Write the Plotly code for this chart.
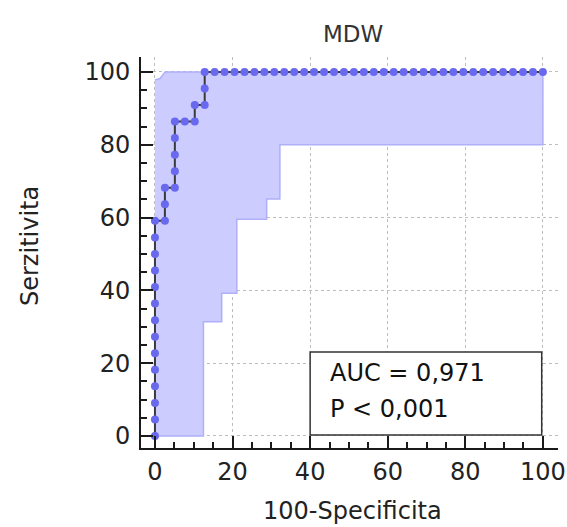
import plotly.graph_objects as go

# ROC curve points (100-Specificity, Sensitivity)
n_pos = 22
n_neg = 39
fpr_steps = [0]*14 + [1, 1, 1, 2, 2, 2, 2, 2, 3, 4, 4, 5, 5, 5] + list(range(6, 40))
tpr_steps = list(range(0, 14)) + [13, 14, 15, 15, 16, 17, 18, 19, 19, 19, 20, 20, 21, 22] + [22]*34
roc_x = [100 * s / n_neg for s in fpr_steps]
roc_y = [100 * s / n_pos for s in tpr_steps]

# Confidence band boundaries
ci_upper_x = [0, 1.3, 2.6, 100]
ci_upper_y = [97.8, 98.2, 100, 100]
ci_lower_x = [100, 32.2, 32.2, 28.8, 28.8, 21.1, 21.1, 17.2, 17.2, 12.5, 12.5, 0]
ci_lower_y = [80, 80, 65.1, 65.1, 59.5, 59.5, 39.2, 39.2, 31.4, 31.4, 0, 0]

tick_vals = [0, 20, 40, 60, 80, 100]
auc_text = "AUC = 0,971"
p_text = "P < 0,001"
title_text = "MDW"
x_title = "100-Specificita"
y_title = "Serzitivita"

FONT = "DejaVu Sans"

fig = go.Figure()
fig.add_trace(go.Scatter(
    x=ci_upper_x + ci_lower_x, y=ci_upper_y + ci_lower_y,
    fill="toself", fillcolor="rgba(204,204,255,1)",
    line=dict(color="rgb(175,175,250)", width=1.5),
    mode="lines", hoverinfo="skip", showlegend=False))
fig.add_trace(go.Scatter(
    x=roc_x, y=roc_y, mode="lines+markers",
    line=dict(color="#3a3a3a", width=2, shape="linear"),
    marker=dict(color="rgb(105,105,240)", size=8),
    showlegend=False))

axis_common = dict(
    showline=True, linecolor="#1a1a1a", linewidth=2,
    ticks="inside", ticklen=12, tickwidth=1.5, tickcolor="#1a1a1a",
    tickvals=tick_vals,
    minor=dict(dtick=5, ticks="inside", ticklen=6, tickwidth=1.5, tickcolor="#1a1a1a", showgrid=False),
    showgrid=True, gridcolor="#bdbdbd", griddash="dot", gridwidth=1,
    zeroline=False, mirror=False, automargin=False,
    tickfont=dict(family=FONT, size=24, color="#222222"),
)
fig.update_xaxes(range=[-3.6, 103.9], ticklabelstandoff=1, **axis_common)
fig.update_yaxes(range=[-3.3, 104.1], ticklabelstandoff=4, **axis_common)

fig.add_shape(type="rect", x0=40, x1=99.7, y0=0.3, y1=23.1, xref="x", yref="y",
              line=dict(color="#333333", width=1.5), fillcolor="white", layer="above")
fig.add_annotation(x=44.5, y=17.2, xref="x", yref="y", text=auc_text, showarrow=False,
                   xanchor="left", yanchor="middle", font=dict(family=FONT, size=24, color="#111111"))
fig.add_annotation(x=44.5, y=7.4, xref="x", yref="y", text=p_text, showarrow=False,
                   xanchor="left", yanchor="middle", font=dict(family=FONT, size=24, color="#111111"))

W, H = 567, 527
ML, MR, MT, MB = 141, 9, 57, 79
pw, ph = W - ML - MR, H - MT - MB
def px(xp):
    return (xp - ML) / pw
def py(yp):
    return (H - MB - yp) / ph

fig.add_annotation(x=px(353), y=py(34), xref="paper", yref="paper", text=title_text, showarrow=False,
                   font=dict(family=FONT, size=23, color="#333333"), xanchor="center", yanchor="middle")
fig.add_annotation(x=px(352), y=py(511), xref="paper", yref="paper", text=x_title, showarrow=False,
                   font=dict(family=FONT, size=24, color="#222222"), xanchor="center", yanchor="middle")
fig.add_annotation(x=px(30), y=py(246), xref="paper", yref="paper", text=y_title, showarrow=False,
                   textangle=-90, font=dict(family=FONT, size=24, color="#222222"),
                   xanchor="center", yanchor="middle")

fig.update_layout(
    width=W, height=H,
    margin=dict(l=ML, r=MR, t=MT, b=MB, autoexpand=False),
    paper_bgcolor="white", plot_bgcolor="white",
    showlegend=False,
)

fig.write_html("out.html")
